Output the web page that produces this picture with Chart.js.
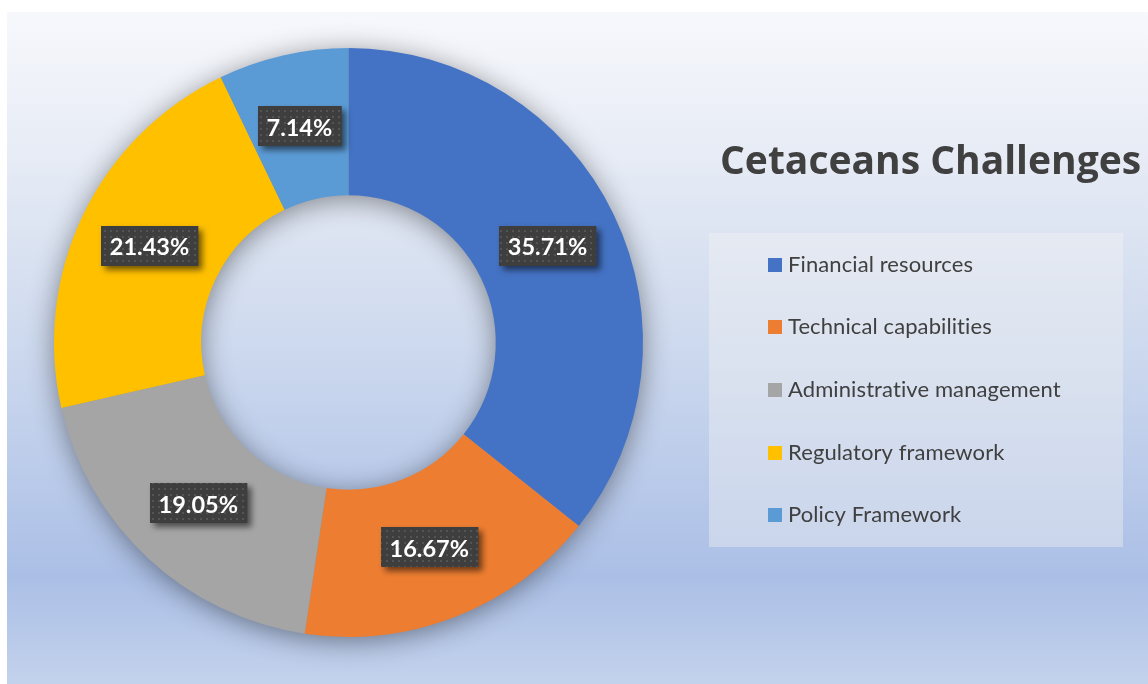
<!DOCTYPE html>
<html>
<head>
<meta charset="utf-8">
<script src="https://cdn.jsdelivr.net/npm/chart.js@4/dist/chart.umd.min.js"></script>
<style>
  html, body { margin: 0; padding: 0; background: #ffffff; }
  #wrap { width: 1148px; height: 684px; position: relative; }
</style>
</head>
<body>
<div id="wrap"><canvas id="c" width="1148" height="684"></canvas></div>
<script>
const chartTitle = 'Cetaceans Challenges';
const categories = ['Financial resources', 'Technical capabilities', 'Administrative management', 'Regulatory framework', 'Policy Framework'];
const values = [35.71, 16.67, 19.05, 21.43, 7.14];
const sliceColors = ['#4472C4', '#ED7D31', '#A5A5A5', '#FFC000', '#5B9BD5'];
const valueLabels = values.map(v => v.toFixed(2) + '%');

function makeDotPattern(ctx) {
  const p = document.createElement('canvas');
  p.width = 6; p.height = 6;
  const pc = p.getContext('2d');
  pc.fillStyle = '#3e3e3e';
  pc.fillRect(0, 0, 6, 6);
  pc.fillStyle = '#545454';
  pc.fillRect(2, 2, 2, 2);
  return ctx.createPattern(p, 'repeat');
}

const backgroundPlugin = {
  id: 'bg',
  beforeDraw(chart) {
    const ctx = chart.ctx;
    ctx.save();
    ctx.fillStyle = '#ffffff';
    ctx.fillRect(0, 0, chart.width, chart.height);
    const g = ctx.createLinearGradient(0, 12, 0, chart.height);
    g.addColorStop(0, '#f7f8fc');
    g.addColorStop(0.22, '#e6ebf5');
    g.addColorStop(0.5, '#cdd9ee');
    g.addColorStop(0.84, '#abbfe6');
    g.addColorStop(1, '#c3d2ec');
    ctx.fillStyle = g;
    ctx.fillRect(7, 12, chart.width - 7, chart.height - 12);
    ctx.restore();
  }
};

const ringShadowPlugin = {
  id: 'ringShadow',
  beforeDatasetsDraw(chart) {
    const meta = chart.getDatasetMeta(0);
    if (!meta.data.length) return;
    const a = meta.data[0].getProps(['x', 'y', 'outerRadius', 'innerRadius'], true);
    const ctx = chart.ctx;
    ctx.save();
    ctx.shadowColor = 'rgba(0,0,0,0.45)';
    ctx.shadowBlur = 28;
    ctx.shadowOffsetY = 4;
    ctx.beginPath();
    ctx.arc(a.x, a.y, a.outerRadius - 1, 0, Math.PI * 2);
    ctx.arc(a.x, a.y, a.innerRadius + 1, 0, Math.PI * 2, true);
    ctx.fillStyle = '#7f8fb0';
    ctx.fill('evenodd');
    ctx.restore();
  }
};

const valueLabelPlugin = {
  id: 'valueLabels',
  afterDatasetsDraw(chart) {
    const ctx = chart.ctx;
    const meta = chart.getDatasetMeta(0);
    const pattern = makeDotPattern(ctx);
    ctx.save();
    ctx.font = 'bold 23.5px Lato, "Open Sans", sans-serif';
    ctx.textAlign = 'center';
    ctx.textBaseline = 'middle';
    meta.data.forEach((arc, i) => {
      const pos = arc.tooltipPosition(true);
      const text = valueLabels[i];
      const w = ctx.measureText(text).width + 18;
      const h = 40;
      const bx = Math.round(pos.x - w / 2);
      const by = Math.round(pos.y - h / 2 - 1);
      ctx.save();
      ctx.shadowColor = 'rgba(0,0,0,0.55)';
      ctx.shadowBlur = 6;
      ctx.shadowOffsetX = 4;
      ctx.shadowOffsetY = 4;
      ctx.fillStyle = pattern;
      ctx.fillRect(bx, by, w, h);
      ctx.restore();
      ctx.fillStyle = '#ffffff';
      ctx.fillText(text, pos.x, pos.y + 1);
    });
    ctx.restore();
  }
};

const sideLegendPlugin = {
  id: 'sideLegend',
  afterDraw(chart) {
    const ctx = chart.ctx;
    ctx.save();
    // title
    ctx.font = 'bold 39px "Open Sans", Lato, sans-serif';
    ctx.fillStyle = '#404040';
    ctx.textAlign = 'left';
    ctx.textBaseline = 'alphabetic';
    ctx.fillText(chartTitle, 720, 174);
    // legend box
    ctx.fillStyle = 'rgba(242,242,242,0.4)';
    ctx.fillRect(709, 233, 414, 314);
    ctx.font = '22px Lato, "Open Sans", sans-serif';
    ctx.textBaseline = 'middle';
    if ('textRendering' in ctx) ctx.textRendering = 'optimizeSpeed';
    if ('letterSpacing' in ctx) ctx.letterSpacing = '0.1px';
    const labels = chart.data.labels;
    const cols = chart.data.datasets[0].backgroundColor;
    labels.forEach((lab, i) => {
      const cy = 264.5 + i * 62.7;
      ctx.fillStyle = cols[i];
      ctx.fillRect(768, Math.round(cy - 7), 14, 14);
      ctx.fillStyle = '#404040';
      ctx.fillText(lab, 788, cy);
    });
    ctx.restore();
  }
};

new Chart(document.getElementById('c'), {
  type: 'doughnut',
  data: {
    labels: categories,
    datasets: [{
      data: values,
      backgroundColor: sliceColors,
      borderWidth: 0,
      hoverOffset: 0
    }]
  },
  options: {
    responsive: false,
    animation: false,
    cutout: '50%',
    layout: { padding: { left: 54, right: 505, top: 48, bottom: 47 } },
    plugins: {
      legend: { display: false },
      tooltip: { enabled: false },
      title: { display: false }
    }
  },
  plugins: [backgroundPlugin, ringShadowPlugin, valueLabelPlugin, sideLegendPlugin]
});
</script>
</body>
</html>
